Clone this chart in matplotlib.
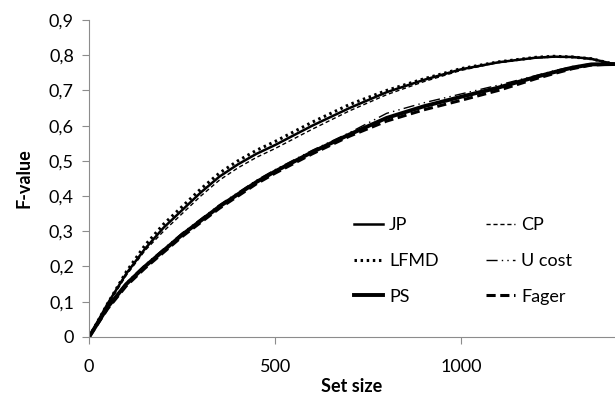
import numpy as np
import matplotlib.pyplot as plt
from matplotlib.ticker import FuncFormatter

plt.rcParams['font.family'] = ['Lato', 'DejaVu Sans']

# set size values where the curves were read
set_size = [0, 50, 100, 150, 200, 250, 300, 350, 400, 450, 500, 600, 700,
            800, 900, 1000, 1100, 1200, 1250, 1300, 1350, 1410]

jp    = [0, 0.095, 0.18, 0.25, 0.31, 0.36, 0.41, 0.455, 0.49, 0.52, 0.545, 0.60, 0.65,
         0.695, 0.73, 0.76, 0.78, 0.793, 0.796, 0.795, 0.79, 0.775]
lfmd  = [0, 0.095, 0.185, 0.26, 0.32, 0.37, 0.42, 0.465, 0.50, 0.53, 0.555, 0.61, 0.66,
         0.70, 0.733, 0.762, 0.781, 0.794, 0.797, 0.795, 0.79, 0.775]
cp    = [0, 0.09, 0.175, 0.245, 0.30, 0.35, 0.40, 0.445, 0.48, 0.51, 0.535, 0.59, 0.642,
         0.688, 0.725, 0.757, 0.779, 0.792, 0.795, 0.794, 0.789, 0.775]
ps    = [0, 0.085, 0.15, 0.20, 0.245, 0.29, 0.33, 0.37, 0.405, 0.44, 0.47, 0.525, 0.575,
         0.622, 0.655, 0.682, 0.708, 0.738, 0.752, 0.765, 0.774, 0.775]
ucost = [0, 0.085, 0.155, 0.205, 0.25, 0.295, 0.335, 0.375, 0.41, 0.445, 0.475, 0.53, 0.58,
         0.635, 0.665, 0.69, 0.715, 0.742, 0.756, 0.768, 0.776, 0.775]
fager = [0, 0.08, 0.145, 0.195, 0.24, 0.285, 0.325, 0.365, 0.40, 0.435, 0.465, 0.52, 0.57,
         0.613, 0.645, 0.672, 0.70, 0.733, 0.748, 0.762, 0.772, 0.775]

fig = plt.figure(figsize=(6.15, 4.01), dpi=100)
ax = fig.add_axes([0.145, 0.16, 0.855, 0.79])

# plotted in legend column order (JP/LFMD/PS left, CP/U cost/Fager right)
ax.plot(set_size, jp, color='black', lw=1.8, label='JP')
ax.plot(set_size, lfmd, color='black', lw=2.2, ls=(0, (0.8, 1.2)), label='LFMD')
ax.plot(set_size, ps, color='black', lw=2.8, label='PS')
ax.plot(set_size, cp, color='black', lw=1.0, ls=(0, (3, 2)), label='CP')
ax.plot(set_size, ucost, color='black', lw=1.0, ls=(0, (8, 3, 1, 3, 1, 3)), label='U cost')
ax.plot(set_size, fager, color='black', lw=2.2, ls=(0, (3, 1.5)), label='Fager')

ax.set_xlim(0, 1414)
ax.set_ylim(0, 0.9)
ax.set_xticks([0, 500, 1000])
ax.set_yticks(np.arange(0, 0.91, 0.1))
ax.yaxis.set_major_formatter(FuncFormatter(lambda v, p: '0' if abs(v) < 1e-9 else f'{v:.1f}'.replace('.', ',')))

for s in ['top', 'right']:
    ax.spines[s].set_visible(False)
for s in ['left', 'bottom']:
    ax.spines[s].set_color('#8c8c8c')
ax.tick_params(colors='#8c8c8c', labelcolor='black', labelsize=13, length=5)
ax.tick_params(axis='x', pad=11)
ax.tick_params(axis='y', pad=6)

ax.set_xlabel('Set size', fontsize=13, fontweight='bold', labelpad=2)
ax.set_ylabel('F-value', fontsize=13, fontweight='bold', labelpad=12)

ax.legend(ncol=2, loc='lower right', bbox_to_anchor=(0.949, 0.05), frameon=False,
          fontsize=13, handlelength=1.6, handletextpad=0.35, columnspacing=2.6,
          labelspacing=1.1)

fig.savefig('out.png', dpi=100)
